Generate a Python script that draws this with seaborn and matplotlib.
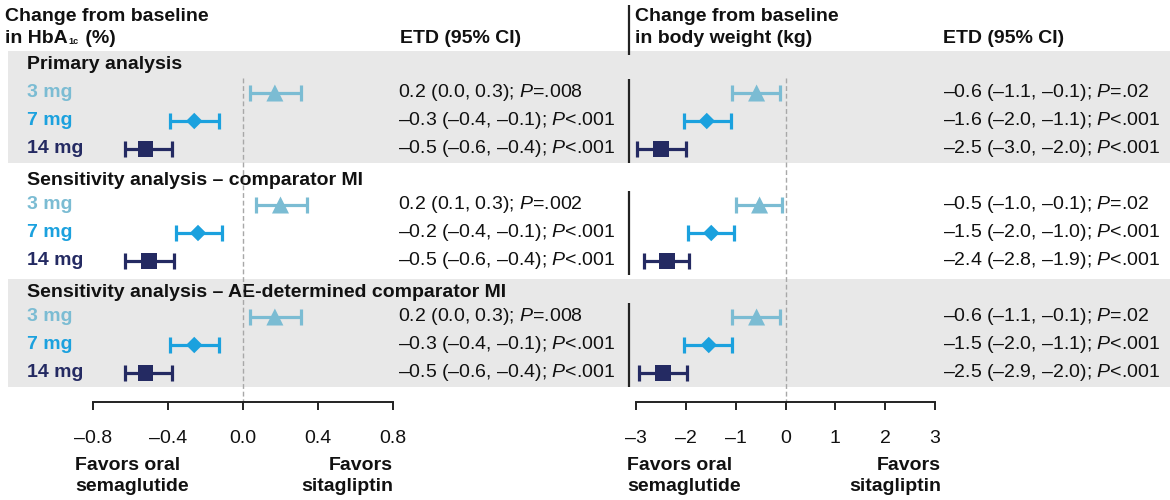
import matplotlib
matplotlib.use("Agg")
import matplotlib.pyplot as plt
import pandas as pd
import seaborn as sns

sns.set_theme(style="white")
plt.rcParams["font.family"] = ["Liberation Sans", "DejaVu Sans"]
plt.rcParams["mathtext.fontset"] = "custom"
plt.rcParams["mathtext.rm"] = "Liberation Sans"
plt.rcParams["mathtext.it"] = "Liberation Sans:italic"
plt.rcParams["mathtext.bf"] = "Liberation Sans:bold"

# ---- data -------------------------------------------------------------
analyses = ["Primary analysis",
            "Sensitivity analysis – comparator MI",
            "Sensitivity analysis – AE-determined comparator MI"]
doses = ["3 mg", "7 mg", "14 mg"]

# HbA1c estimated treatment difference (%), ordered analysis x dose
hba1c_est = [0.17, -0.26, -0.52, 0.20, -0.24, -0.50, 0.17, -0.26, -0.52]
hba1c_lo = [0.04, -0.39, -0.63, 0.07, -0.36, -0.63, 0.04, -0.39, -0.63]
hba1c_hi = [0.31, -0.13, -0.38, 0.34, -0.11, -0.37, 0.31, -0.13, -0.38]
hba1c_p = ["=.008", "<.001", "<.001", "=.002", "<.001", "<.001",
           "=.008", "<.001", "<.001"]

# Body weight estimated treatment difference (kg)
bw_est = [-0.58, -1.58, -2.49, -0.52, -1.49, -2.38, -0.58, -1.54, -2.46]
bw_lo = [-1.07, -2.04, -2.98, -1.00, -1.96, -2.83, -1.07, -2.04, -2.93]
bw_hi = [-0.11, -1.09, -2.00, -0.07, -1.03, -1.93, -0.11, -1.07, -1.97]
bw_p = ["=.02", "<.001", "<.001", "=.02", "<.001", "<.001",
        "=.02", "<.001", "<.001"]

hba1c_ticks = [-0.8, -0.4, 0.0, 0.4, 0.8]
hba1c_ticklabels = ["–0.8", "–0.4", "0.0", "0.4", "0.8"]
bw_ticks = [-3, -2, -1, 0, 1, 2, 3]
bw_ticklabels = ["–3", "–2", "–1", "0", "1", "2", "3"]

# ---- styling ----------------------------------------------------------
palette = {"3 mg": "#7BBCD3", "7 mg": "#1BA1DE", "14 mg": "#242A62"}
marker_map = {"3 mg": "^", "7 mg": "D", "14 mg": "s"}
size_map = {"3 mg": 150, "7 mg": 70, "14 mg": 130}
band_color = "#E8E8E8"
text_color = "#111111"
FS = 14

W, H = 1170, 500
fig = plt.figure(figsize=(W / 100, H / 100), dpi=100)
fig.patch.set_facecolor("white")

# vertical layout in row units: row = (pixel - 65) / 28
Y_TOP, Y_BOT = (0 - 65) / 28, (402 - 65) / 28
ax_bottom = (H - 402) / H
ax_height = 402 / H

row_y = [4 * i + 1 + j for i in range(3) for j in range(3)]
header_y = [0, 4.12, 8.12]
dose_col = doses * 3

# background layer (pixel x, row y) for bands, separators and text
bg = fig.add_axes([0, ax_bottom, 1, ax_height], zorder=0)
bg.set_xlim(0, W)
bg.set_ylim(Y_BOT, Y_TOP)
bg.axis("off")
bg.axhspan(-0.5, 3.5, xmin=8 / W, xmax=1, color=band_color, lw=0)
bg.axhspan(7.65, 11.5, xmin=8 / W, xmax=1, color=band_color, lw=0)

# separator before the body-weight panel
bg.vlines(629, (5 - 65) / 28, (55 - 65) / 28, color="#222222", lw=1.6)
for i in range(3):
    bg.vlines(629, row_y[3 * i] - 0.5, row_y[3 * i + 2] + 0.5,
              color="#222222", lw=1.6)


def fmt(v):
    return f"{v:.1f}".replace("-", "–")


# column headers
renderer = fig.canvas.get_renderer()
y1, y2 = (17 - 65) / 28, (39 - 65) / 28
for x0 in (5, 635):
    bg.text(x0, y1, "Change from baseline", fontsize=FS, fontweight="bold",
            color=text_color, va="center", ha="left")
bg.text(635, y2, "in body weight (kg)", fontsize=FS, fontweight="bold",
        color=text_color, va="center", ha="left")

# "in HbA1c (%)" with a small subscript
t = bg.text(5, y2, "in HbA", fontsize=FS, fontweight="bold",
            color=text_color, va="center", ha="left")
bb = t.get_window_extent(renderer)
x_px = bb.x1 + 1
sub = fig.text(x_px / W, bb.y0 / H + 0.002, "1c", fontsize=6.5,
               fontweight="bold", color=text_color, va="bottom", ha="left")
bb2 = sub.get_window_extent(renderer)
fig.text((bb2.x1 + 1) / W, bb.y0 / H + (bb.height / H) / 2 - 0.0, " (%)",
         fontsize=FS, fontweight="bold", color=text_color, va="center",
         ha="left")

for x0 in (400, 943):
    bg.text(x0, y2, "ETD (95% CI)", fontsize=FS, fontweight="bold",
            color=text_color, va="center", ha="left")

# analysis headers and dose labels
for i, name in enumerate(analyses):
    bg.text(27, header_y[i], name, fontsize=FS, fontweight="bold",
            color=text_color, va="center", ha="left")
for y, d in zip(row_y, dose_col):
    bg.text(27, y, d, fontsize=FS, fontweight="bold", color=palette[d],
            va="center", ha="left")

# ETD text columns
for x0, est, lo, hi, pv in [(398, hba1c_est, hba1c_lo, hba1c_hi, hba1c_p),
                            (943, bw_est, bw_lo, bw_hi, bw_p)]:
    for y, e, l, h, p in zip(row_y, est, lo, hi, pv):
        label = f"{fmt(e)} ({fmt(l)}, {fmt(h)}); $\\mathit{{P}}${p}"
        bg.text(x0, y, label, fontsize=FS, color=text_color,
                va="center", ha="left")


def forest(rect, est, lo, hi, ticks, ticklabels, xlim):
    ax = fig.add_axes(rect, zorder=2)
    ax.patch.set_alpha(0)
    df = pd.DataFrame({"dose": dose_col, "est": est, "y": row_y,
                       "lo": lo, "hi": hi})
    ax.vlines(0, 0.46, Y_BOT, colors="#A8A8A8", lw=1.0,
              linestyles=(0, (3.5, 2)), zorder=1)
    for d in doses:
        s = df[df["dose"] == d]
        ax.errorbar(s["est"], s["y"],
                    xerr=[s["est"] - s["lo"], s["hi"] - s["est"]],
                    fmt="none", ecolor=palette[d], elinewidth=2.3,
                    capsize=5.5, capthick=2.3, zorder=3, clip_on=False)
    sns.scatterplot(data=df, x="est", y="y", hue="dose", style="dose",
                    size="dose", palette=palette, markers=marker_map,
                    sizes=size_map, legend=False, linewidth=0, ax=ax,
                    zorder=4, clip_on=False)
    ax.set_xlim(*xlim)
    ax.set_ylim(Y_BOT, Y_TOP)
    ax.set_xlabel("")
    ax.set_ylabel("")
    ax.set_yticks([])
    for sp in ("top", "right", "left"):
        ax.spines[sp].set_visible(False)
    ax.spines["bottom"].set_color("#222222")
    ax.spines["bottom"].set_linewidth(1.4)
    ax.set_xticks(ticks)
    ax.set_xticklabels(ticklabels, fontsize=FS, color=text_color)
    ax.tick_params(axis="x", direction="out", length=6, width=1.4,
                   color="#222222", pad=14, bottom=True)
    return ax


forest([93 / W, ax_bottom, 300 / W, ax_height], hba1c_est, hba1c_lo, hba1c_hi,
       hba1c_ticks, hba1c_ticklabels, (-0.8, 0.8))
forest([636 / W, ax_bottom, 299 / W, ax_height], bw_est, bw_lo, bw_hi,
       bw_ticks, bw_ticklabels, (-3, 3))

# direction captions under each axis
for xl, xr in [(75, 393), (627, 941)]:
    fig.text(xl / W, 1 - 476 / H, "Favors oral\nsemaglutide", fontsize=FS,
             fontweight="bold", color=text_color, ha="left", va="center",
             linespacing=1.3)
    fig.text(xr / W, 1 - 476 / H, "Favors\nsitagliptin", fontsize=FS,
             fontweight="bold", color=text_color, ha="right", va="center",
             linespacing=1.3, multialignment="right")

fig.savefig("out.png", dpi=100, facecolor="white")
